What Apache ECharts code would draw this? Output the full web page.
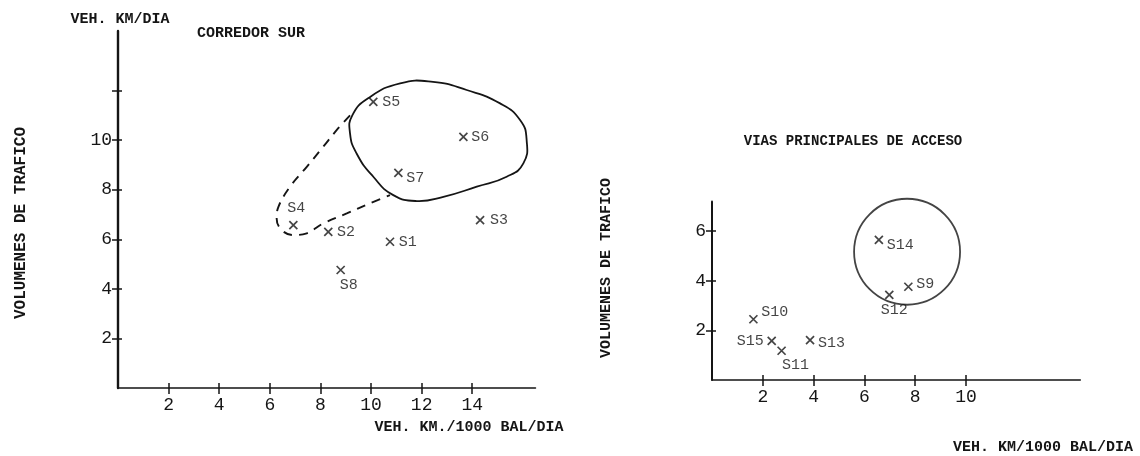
<!DOCTYPE html>
<html><head><meta charset="utf-8">
<script src="https://cdn.jsdelivr.net/npm/echarts@6/dist/echarts.min.js"></script>
<style>html,body{margin:0;background:#fff}#c{width:1140px;height:456px}</style>
</head><body><div id="c"></div>
<script>
// ---- Left panel: CORREDOR SUR ----
const surNames = ['S1', 'S2', 'S3', 'S4', 'S5', 'S6', 'S7', 'S8'];
const surX = [10.75, 8.31, 14.31, 6.93, 10.09, 13.65, 11.08, 8.8];
const surY = [5.9, 6.3, 6.77, 6.57, 11.54, 10.13, 8.68, 4.76];
const surXTicks = [2, 4, 6, 8, 10, 12, 14];
const surYTicks = [2, 4, 6, 8, 10, 12];
const surYLabels = [2, 4, 6, 8, 10];
// solid outline around S5, S6, S7
const surGroupX = [9.17, 9.26, 9.9, 11.15, 12.45, 13.78, 15.1, 15.89, 16.15, 16.02, 15.36, 14.18, 12.86, 11.81, 10.88, 10.09, 9.43];
const surGroupY = [10.27, 11.0, 11.7, 12.29, 12.35, 12.02, 11.48, 10.81, 10.0, 9.06, 8.52, 8.12, 7.71, 7.54, 7.78, 8.52, 9.46];
// dashed outline extending the group to S4
const surDashX = [9.17, 8.64, 8.11, 7.46, 6.8, 6.34, 6.27, 6.47, 6.93, 7.46, 8.11, 9.04, 9.96, 10.75];
const surDashY = [11.0, 10.4, 9.73, 8.92, 8.12, 7.31, 6.84, 6.37, 6.17, 6.24, 6.64, 7.04, 7.45, 7.78];

// ---- Right panel: VIAS PRINCIPALES DE ACCESO ----
const accNames = ['S9', 'S10', 'S11', 'S12', 'S13', 'S14', 'S15'];
const accX = [7.73, 1.63, 2.74, 6.98, 3.86, 6.57, 2.35];
const accY = [3.76, 2.45, 1.18, 3.43, 1.61, 5.65, 1.58];
const accXTicks = [2, 4, 6, 8, 10];
const accYTicks = [2, 4, 6];
const accCircleCenter = [7.68, 5.17];

const titles = {
  leftYTop: 'VEH. KM/DIA',
  leftTitle: 'CORREDOR SUR',
  yName: 'VOLUMENES DE TRAFICO',
  leftXName: 'VEH. KM./1000 BAL/DIA',
  rightTitle: 'VIAS PRINCIPALES DE ACCESO',
  rightXName: 'VEH. KM/1000 BAL/DIA'
};

const INK = '#151515';
const MONO = '"Liberation Mono", "DejaVu Sans Mono", monospace';
const labelPlacement = {
  S1: {position: 'right', distance: 4},
  S2: {position: 'right', distance: 4},
  S3: {position: 'right', distance: 5},
  S4: {position: 'top', distance: 5, offset: [3, 0]},
  S5: {position: 'right', distance: 4},
  S6: {position: 'right', distance: 3},
  S7: {position: 'right', distance: 3, offset: [0, 5]},
  S8: {position: 'bottom', distance: 3, offset: [8, 0]},
  S9: {position: 'right', distance: 3, offset: [0, -3]},
  S10: {position: 'right', distance: 3, offset: [0, -7]},
  S11: {position: 'bottom', distance: 2, offset: [14, 0]},
  S12: {position: 'bottom', distance: 3, offset: [5, 0]},
  S13: {position: 'right', distance: 3, offset: [0, 3]},
  S14: {position: 'right', distance: 3, offset: [0, 5]},
  S15: {position: 'left', distance: 3}
};

function points(names, xs, ys) {
  return names.map((n, i) => ({name: n, value: [xs[i], ys[i]], label: labelPlacement[n]}));
}

const crossSymbol = 'path://M0,0L10,10M10,0L0,10';
const scatterBase = {
  type: 'scatter',
  symbol: crossSymbol,
  symbolSize: 8,
  itemStyle: {color: 'rgba(0,0,0,0)', borderColor: INK, borderWidth: 1.7},
  label: {show: true, formatter: p => p.name, color: INK, fontFamily: MONO, fontSize: 15},
  emphasis: {disabled: true},
  z: 5
};

function xAxisPair(grid, max, ticks) {
  const line = {color: INK, width: 1.5};
  return [
    {type: 'value', gridIndex: grid, min: 0, max: max, position: 'bottom',
      axisLine: {show: true, onZero: false, lineStyle: line},
      axisTick: {show: true, customValues: ticks, length: 6, lineStyle: line},
      axisLabel: {show: true, customValues: ticks, color: INK, fontFamily: MONO, fontSize: 18, margin: 8},
      splitLine: {show: false}},
    {type: 'value', gridIndex: grid, min: 0, max: max, position: 'bottom',
      axisLine: {show: false, onZero: false},
      axisTick: {show: true, inside: true, customValues: ticks, length: 5, lineStyle: line},
      axisLabel: {show: false}, splitLine: {show: false}}
  ];
}
function yAxisPair(grid, max, ticks, labels, width) {
  const line = {color: INK, width: 1.5};
  return [
    {type: 'value', gridIndex: grid, min: 0, max: max, position: 'left',
      axisLine: {show: true, onZero: false, lineStyle: {color: INK, width: width}},
      axisTick: {show: true, customValues: ticks, length: 6, lineStyle: line},
      axisLabel: {show: true, customValues: labels, color: INK, fontFamily: MONO, fontSize: 18, margin: 6},
      splitLine: {show: false}},
    {type: 'value', gridIndex: grid, min: 0, max: max, position: 'left',
      axisLine: {show: false, onZero: false},
      axisTick: {show: true, inside: true, customValues: ticks, length: 4, lineStyle: line},
      axisLabel: {show: false}, splitLine: {show: false}}
  ];
}

function textEl(text, x, y, size, rot) {
  return {type: 'text', x: x, y: y, rotation: rot || 0, silent: true,
    style: {text: text, fill: INK, font: 'bold ' + size + 'px ' + MONO,
      align: 'center', verticalAlign: 'middle', textAlign: 'center', textVerticalAlign: 'middle'}};
}

const chart = echarts.init(document.getElementById('c'), null, {renderer: 'canvas'});
chart.setOption({
  backgroundColor: '#ffffff',
  animation: false,
  grid: [
    {left: 118, top: 31, width: 417.5, height: 357, outerBoundsMode: 'none', containLabel: false},
    {left: 712, top: 201.4, width: 368.3, height: 178.6, outerBoundsMode: 'none', containLabel: false}
  ],
  xAxis: [...xAxisPair(0, 16.5, surXTicks), ...xAxisPair(1, 14.5, accXTicks)],
  yAxis: [...yAxisPair(0, 14.4, surYTicks, surYLabels, 2.4), ...yAxisPair(1, 7.2, accYTicks, accYTicks, 2)],
  graphic: [
    textEl(titles.leftYTop, 120, 19, 15),
    textEl(titles.leftTitle, 251, 33, 15),
    textEl(titles.yName, 21, 223, 16, Math.PI / 2),
    textEl(titles.leftXName, 469, 427, 15),
    textEl(titles.rightTitle, 853, 141, 14),
    textEl(titles.yName, 606, 268, 15, Math.PI / 2),
    textEl(titles.rightXName, 1043, 447, 15)
  ],
  series: [
    Object.assign({}, scatterBase, {xAxisIndex: 0, yAxisIndex: 0, data: points(surNames, surX, surY)}),
    Object.assign({}, scatterBase, {xAxisIndex: 2, yAxisIndex: 2, data: points(accNames, accX, accY)}),
    {
      type: 'custom', xAxisIndex: 0, yAxisIndex: 0, silent: true, clip: false,
      data: [[surGroupX[0], surGroupY[0]]],
      renderItem: (params, api) => ({
        type: 'polygon',
        shape: {points: surGroupX.map((x, i) => api.coord([x, surGroupY[i]])), smooth: 0.5},
        style: {fill: 'none', stroke: INK, lineWidth: 1.8}
      })
    },
    {
      type: 'line', xAxisIndex: 0, yAxisIndex: 0, silent: true, showSymbol: false, symbol: 'none',
      smooth: 0.4, data: surDashX.map((x, i) => [x, surDashY[i]]),
      lineStyle: {color: INK, width: 1.9, type: [9, 7]}
    },
    {
      type: 'scatter', xAxisIndex: 2, yAxisIndex: 2, silent: true, symbol: 'circle', symbolSize: 106,
      data: [accCircleCenter],
      itemStyle: {color: 'rgba(0,0,0,0)', borderColor: INK, borderWidth: 1.8}, z: 4
    }
  ]
});
</script></body></html>
